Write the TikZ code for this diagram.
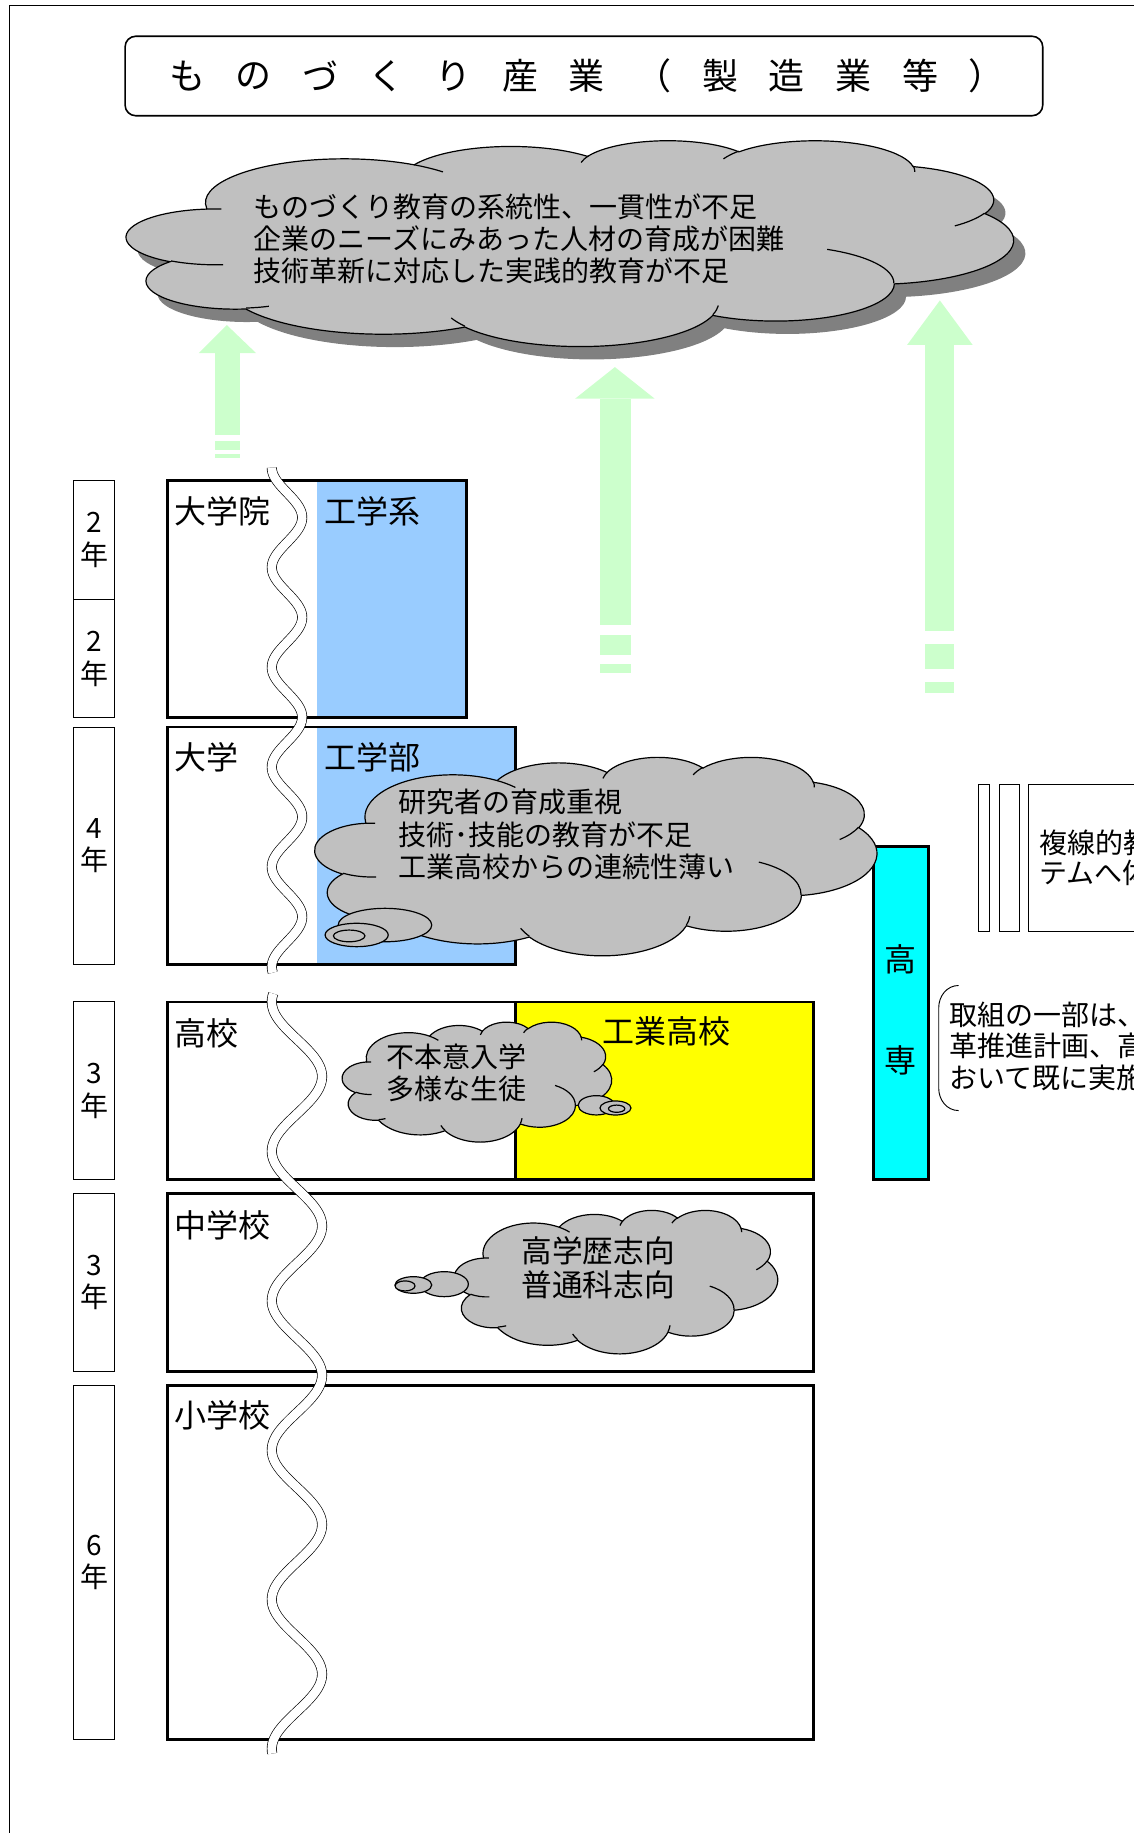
\documentclass[tikz,border=0pt]{standalone}
\usepackage{fontspec}
\setmainfont{Noto Sans CJK JP}
\usetikzlibrary{shapes.geometric}
\definecolor{cloudgray}{HTML}{C0C0C0}
\definecolor{shadowgray}{HTML}{808080}
\definecolor{lblue}{HTML}{99CCFF}
\definecolor{lgreen}{HTML}{CCFFCC}
\definecolor{kcyan}{HTML}{00FFFF}
\definecolor{kyellow}{HTML}{FFFF00}
\def\px{0.8768pt}
\tikzset{
  box/.style={draw, line width=2pt, inner sep=0pt, outer sep=0pt, anchor=north west},
  yearbox/.style={draw, line width=0.7pt, inner sep=0pt, outer sep=0pt, anchor=north west, align=center,
     font=\fontsize{21}{24.5}\selectfont, minimum width=35*\px},
  thinbox/.style={draw, line width=0.7pt, inner sep=0pt, outer sep=0pt, anchor=north west},
  lbl/.style={anchor=west, inner sep=0pt, font=\fontsize{24}{28}\selectfont},
  ctext/.style={anchor=west, inner sep=0pt, align=left, font=\fontsize{21}{24.1}\selectfont},
  titlechar/.style={inner sep=0pt, font=\fontsize{27}{30}\selectfont},
  cloudline/.style={draw=black, line width=0.9pt},
  bubble/.style={ellipse, draw, line width=0.9pt, fill=cloudgray, inner sep=0pt},
  wave/.style={draw=black, line width=0.5pt, double=white, double distance=6.5pt},
  garrow/.style={fill=lgreen, draw=none},
  cloudbox/.style n args={4}{shift={(#1,#2)}, xscale=#3/432, yscale=#4/432},
}
% PowerPoint-style cloud outline in a 432 x 432 box
\newcommand\cloudP[1]{%
  \path[#1] (39.00,143.70)
    arc[start angle=-187.746, end angle=-59.625, x radius=67.53, y radius=91.90]
    arc[start angle=-152.03, end angle=-45.445, x radius=53.33, y radius=72.67]
    arc[start angle=-153.48, end angle=-37.34, x radius=43.65, y radius=59.45]
    arc[start angle=-139.71, end angle=-10.21, x radius=48.57, y radius=65.95]
    arc[start angle=-74.77, end angle=23.21, x radius=53.33, y radius=72.73]
    arc[start angle=-37.54, end angle=81.86, x radius=67.75, y radius=92.20]
    arc[start angle=0.4596, end angle=121.98, x radius=57.85, y radius=78.67]
    arc[start angle=16.84, end angle=146.26, x radius=67.52, y radius=92.15]
    arc[start angle=58.98, end angle=150.20, x radius=77.20, y radius=105.43]
    arc[start angle=-276.69, end angle=-136.87, x radius=43.60, y radius=59.18]
    arc[start angle=-239.65, end angle=-95.89, x radius=43.45, y radius=59.45]
    -- cycle;}
\newcommand\cloudI[1]{%
  \path[#1]
    (46.93,261.77) arc[start angle=85.55, end angle=120.35, x radius=43.45, y radius=59.45]
    (69.28,348.99) arc[start angle=68.23, end angle=83.31, x radius=43.60, y radius=59.18]
    (164.78,390.90) arc[start angle=146.26, end angle=158.47, x radius=67.52, y radius=92.15]
    (288.27,347.51) arc[start angle=4.74, end angle=16.84, x radius=67.52, y radius=92.15]
    (341.29,229.54) arc[start angle=-64.03, end angle=0.4596, x radius=57.85, y radius=78.67]
    (417.98,153.54) arc[start angle=23.21, end angle=49.64, x radius=53.33, y radius=72.73]
    (383.24,54.26) arc[start angle=-10.21, end angle=0.82, x radius=48.57, y radius=65.95]
    (290.78,39.52) arc[start angle=-156.29, end angle=-139.71, x radius=48.57, y radius=65.95]
    (221.41,47.20) arc[start angle=-167.73, end angle=-153.48, x radius=43.65, y radius=59.45]
    (140.07,52.04) arc[start angle=-59.625, end angle=-44.5, x radius=67.53, y radius=91.90]
    (38.65,145.03) arc[start angle=-95.89, end angle=-86, x radius=43.45, y radius=59.45];}
\begin{document}
\begin{tikzpicture}[x=0.8768pt,y=-0.8768pt]
\useasboundingbox (0,0) rectangle (970,1568);
\clip (0,0) rectangle (970,1568);
% frame
\draw[line width=0.8pt] (8,1600) -- (8,5) -- (1000,5);
% title
\node[draw, rounded corners=8pt, line width=1.2pt, minimum width=785*\px, minimum height=68*\px, inner sep=0pt] (titlebox) at (499.5,65) {};
\foreach \c [count=\i from 0] in {も,の,づ,く,り,産,業,（,製,造,業,等,）}
  \node[titlechar] (tc\i) at ({160+57*\i},65) {\c};
% green arrows
\fill[garrow] (170,302) -- (194,278) -- (219,302) -- cycle;
\fill[garrow] (184,302) rectangle (205,372);
\fill[garrow] (184,377) rectangle (205,385);
\fill[garrow] (184,388) rectangle (205,392);
\fill[garrow] (492,341) -- (526,314) -- (560,341) -- cycle;
\fill[garrow] (513,341) rectangle (540,535);
\fill[garrow] (513,543) rectangle (540,560);
\fill[garrow] (513,568) rectangle (540,576);
\fill[garrow] (776,295) -- (804,257) -- (832,295) -- cycle;
\fill[garrow] (791,295) rectangle (816,540);
\fill[garrow] (791,551) rectangle (816,572);
\fill[garrow] (791,583) rectangle (816,593);
% big cloud with shadow
\begin{scope}[cloudbox={118.4}{130.8}{758.4}{176}]
  \cloudP{fill=shadowgray}
\end{scope}
\begin{scope}[cloudbox={108.4}{119.8}{758.4}{176}]
  \cloudP{fill=cloudgray, cloudline}
  \cloudI{cloudline}
\end{scope}
\node[ctext] (bigtext) at (217,204) {ものづくり教育の系統性、一貫性が不足\\企業のニーズにみあった人材の育成が困難\\技術革新に対応した実践的教育が不足};
% year boxes
\node[yearbox, minimum height=102*\px] (y1) at (63,411) {2\\年};
\node[yearbox, minimum height=101*\px] (y2) at (63,513) {2\\年};
\node[yearbox, minimum height=203*\px] (y3) at (63,622) {4\\年};
\node[yearbox, minimum height=152*\px] (y4) at (63,857) {3\\年};
\node[yearbox, minimum height=152*\px] (y5) at (63,1021) {3\\年};
\node[yearbox, minimum height=303*\px] (y6) at (63,1185) {6\\年};
% fills
\fill[lblue] (271,411) rectangle (399,614);
\fill[lblue] (271,622) rectangle (441,825);
\node[box, fill=kyellow, minimum width=255*\px, minimum height=152*\px] (kogyo) at (441,857) {};
% school boxes
\node[box, minimum width=256*\px, minimum height=203*\px] (grad) at (143,411) {};
\node[box, minimum width=298*\px, minimum height=203*\px] (univ) at (143,622) {};
\node[box, minimum width=553*\px, minimum height=152*\px] (high) at (143,857) {};
\node[box, minimum width=553*\px, minimum height=152*\px] (junior) at (143,1021) {};
\node[box, minimum width=553*\px, minimum height=303*\px] (elem) at (143,1185) {};
% labels
\node[lbl] (lgrad) at (149,437) {大学院};
\node[lbl] (lgradeng) at (277,437) {工学系};
\node[lbl] (luniv) at (149,648) {大学};
\node[lbl] (luniveng) at (277,648) {工学部};
\node[lbl] (lhigh) at (149,884) {高校};
\node[lbl] (lkogyo) at (515,882) {工業高校};
\node[lbl] (ljunior) at (149,1048) {中学校};
\node[lbl] (lelem) at (149,1211) {小学校};
% waves
\draw[wave] plot[domain=400:832, samples=220, variable=\t] ({245.5-13*cos(4.2155*(\t-400))}, {\t});
\draw[wave] plot[domain=850:1500, samples=300, variable=\t] ({254-21.5*cos(2.8169*(\t-857))}, {\t});
% kosen
\node[box, fill=kcyan, minimum width=47*\px, minimum height=285*\px] (kosen) at (747,724) {};
\node[lbl, anchor=center] (kosen1) at (770.5,821) {高};
\node[lbl, anchor=center] (kosen2) at (770.5,907) {専};
% univ cloud
\begin{scope}[cloudbox={269.5}{647.3}{480.5}{169.7}]
  \cloudP{fill=cloudgray, cloudline}
  \cloudI{cloudline}
\end{scope}
\node[bubble, minimum width=80*\px, minimum height=28.6*\px] (ub1) at (329.3,791.3) {};
\node[bubble, minimum width=54*\px, minimum height=20*\px] (ub2) at (305.1,799.8) {};
\node[bubble, minimum width=27*\px, minimum height=10*\px] (ub3) at (298.7,800.6) {};
\node[ctext, font=\fontsize{21}{24.4}\selectfont] (utext) at (341,714) {研究者の育成重視\\技術･技能の教育が不足\\工業高校からの連続性薄い};
% high cloud
\begin{scope}[cloudbox={292.8}{874}{230.4}{102.6}]
  \cloudP{fill=cloudgray, cloudline}
  \cloudI{cloudline}
\end{scope}
\node[bubble, minimum width=31*\px, minimum height=16.5*\px] (hb1) at (510.1,945.5) {};
\node[bubble, minimum width=26.5*\px, minimum height=12*\px] (hb2) at (526.5,947.8) {};
\node[bubble, minimum width=14*\px, minimum height=6.2*\px] (hb3) at (527.5,948.4) {};
\node[ctext, font=\fontsize{21}{24}\selectfont] (htext) at (330,918) {不本意入学\\多様な生徒};
% junior cloud
\begin{scope}[cloudbox={388.6}{1035}{276.6}{122.7}]
  \cloudP{fill=cloudgray, cloudline}
  \cloudI{cloudline}
\end{scope}
\node[bubble, minimum width=41.3*\px, minimum height=21.4*\px] (jb1) at (380,1098.5) {};
\node[bubble, minimum width=31.4*\px, minimum height=14.2*\px] (jb2) at (353.6,1099.2) {};
\node[bubble, minimum width=17*\px, minimum height=8.6*\px] (jb3) at (346.5,1100) {};
\node[ctext, font=\fontsize{23}{25.4}\selectfont] (jtext) at (446,1084.5) {高学歴志向\\普通科志向};
% right side
\node[thinbox, minimum width=9*\px, minimum height=126*\px] (bar1) at (837,671) {};
\node[thinbox, minimum width=17*\px, minimum height=126*\px] (bar2) at (855,671) {};
\node[thinbox, minimum width=150*\px, minimum height=126*\px] (multi) at (880,671) {};
\node[ctext, font=\fontsize{21}{22.8}\selectfont] (multitext) at (889,734) {複線的教\\テムへ体};
\draw[line width=0.7pt] (820,843) to[out=180,in=90] (803,862) -- (803,931) to[out=270,in=180] (820,950);
\node[ctext, font=\fontsize{21}{23.7}\selectfont] (note) at (812,895) {取組の一部は、\\革推進計画、高\\おいて既に実施};
\end{tikzpicture}
\end{document}
